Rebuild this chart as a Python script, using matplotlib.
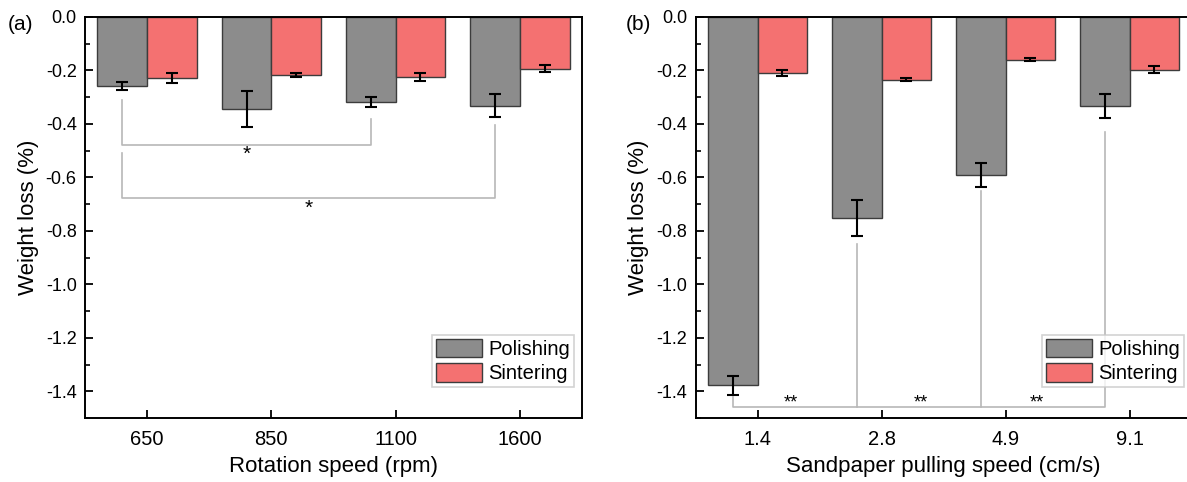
import numpy as np
import matplotlib
matplotlib.use("Agg")
import matplotlib.pyplot as plt
from matplotlib.ticker import MultipleLocator

plt.rcParams["font.family"] = ["Liberation Sans", "DejaVu Sans"]

# panel (a): rotation speed
rot_labels = ["650", "850", "1100", "1600"]
rot_pol = [-0.258, -0.343, -0.318, -0.332]
rot_pol_err = [0.016, 0.067, 0.019, 0.042]
rot_sin = [-0.228, -0.217, -0.224, -0.194]
rot_sin_err = [0.020, 0.008, 0.015, 0.013]

# panel (b): sandpaper pulling speed
pull_labels = ["1.4", "2.8", "4.9", "9.1"]
pull_pol = [-1.378, -0.752, -0.592, -0.333]
pull_pol_err = [0.035, 0.069, 0.044, 0.046]
pull_sin = [-0.210, -0.234, -0.160, -0.197]
pull_sin_err = [0.010, 0.005, 0.006, 0.012]

GREY = "#8c8c8c"
RED = "#f47171"
EDGE = "#3c3c3c"
SIG = "#b8b8b8"
W = 0.4


def draw_panel(ax, labels, pol, pol_err, sin, sin_err, xlabel):
    x = np.arange(len(labels))
    ax.bar(x - W / 2, pol, W, color=GREY, edgecolor=EDGE, lw=1.0, label="Polishing", zorder=2)
    ax.bar(x + W / 2, sin, W, color=RED, edgecolor=EDGE, lw=1.0, label="Sintering", zorder=2)
    ax.errorbar(x - W / 2, pol, yerr=pol_err, fmt="none", ecolor="k", elinewidth=1.5,
                capsize=4, capthick=1.5, zorder=3)
    ax.errorbar(x + W / 2, sin, yerr=sin_err, fmt="none", ecolor="k", elinewidth=1.5,
                capsize=4, capthick=1.5, zorder=3)
    ax.set_xlim(-0.5, len(labels) - 0.5)
    ax.set_ylim(-1.5, 0)
    ax.set_xticks(x)
    ax.set_xticklabels(labels)
    ax.yaxis.set_minor_locator(MultipleLocator(0.1))
    ax.set_yticks(np.arange(-1.4, 0.01, 0.2))
    ax.yaxis.set_major_formatter(plt.FuncFormatter(lambda v, p: f"{v:.1f}".replace("-0.0", "0.0")))
    ax.tick_params(axis="both", which="major", direction="in", length=6, width=1.3, pad=6)
    ax.tick_params(axis="y", labelsize=13)
    ax.tick_params(axis="x", labelsize=14.5, pad=9)
    ax.tick_params(axis="y", which="minor", direction="in", length=3.5, width=1.2)
    ax.tick_params(axis="x", which="minor", bottom=False)
    for s in ax.spines.values():
        s.set_linewidth(1.4)
    ax.set_xlabel(xlabel, fontsize=16, labelpad=5)
    ax.set_ylabel("Weight loss (%)", fontsize=16, labelpad=5)
    leg = ax.legend(loc="lower right", bbox_to_anchor=(0.984, 0.077), borderaxespad=0,
                    fontsize=14.5, fancybox=False, handlelength=2.3, handleheight=1.05,
                    handletextpad=0.3, labelspacing=0.2, borderpad=0.2)
    leg.get_frame().set_edgecolor("#c8c8c8")
    leg.get_frame().set_linewidth(1.2)


fig = plt.figure(figsize=(11.87, 4.82), dpi=100)
ax1 = fig.add_axes([0.0716, 0.1328, 0.4187, 0.832])
ax2 = fig.add_axes([0.586, 0.1328, 0.4179, 0.832])

draw_panel(ax1, rot_labels, rot_pol, rot_pol_err, rot_sin, rot_sin_err, "Rotation speed (rpm)")
draw_panel(ax2, pull_labels, pull_pol, pull_pol_err, pull_sin, pull_sin_err,
           "Sandpaper pulling speed (cm/s)")

# significance brackets, panel (a)
ax1.plot([-0.2, -0.2, 1.8, 1.8], [-0.31, -0.48, -0.48, -0.38], color=SIG, lw=1.2, zorder=1)
ax1.text(0.8, -0.515, "*", ha="center", va="center", fontsize=15)
ax1.plot([-0.2, -0.2, 2.8, 2.8], [-0.51, -0.677, -0.677, -0.405], color=SIG, lw=1.2, zorder=1)
ax1.text(1.3, -0.715, "*", ha="center", va="center", fontsize=15)

# significance brackets, panel (b)
ax2.plot([-0.2, -0.2, 2.8, 2.8], [-1.42, -1.46, -1.46, -0.432], color=SIG, lw=1.2, zorder=1)
ax2.plot([0.8, 0.8], [-0.848, -1.46], color=SIG, lw=1.2, zorder=1)
ax2.plot([1.8, 1.8], [-0.652, -1.46], color=SIG, lw=1.2, zorder=1)
for xs in (0.27, 1.32, 2.25):
    ax2.text(xs, -1.445, "**", ha="center", va="center", fontsize=13)

fig.text(8 / 1187, 1 - 25 / 482, "(a)", fontsize=15, va="center", ha="left")
fig.text(626 / 1187, 1 - 25 / 482, "(b)", fontsize=15, va="center", ha="left")

fig.savefig("out.png", dpi=100)
